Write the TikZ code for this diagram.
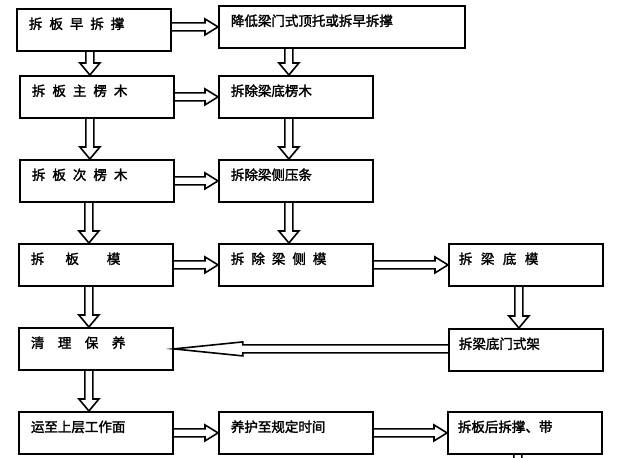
\documentclass[tikz,border=0pt]{standalone}
\usepackage{fontspec}
\newfontfamily\cjk{Noto Sans CJK SC}[FakeBold=2]
\usetikzlibrary{calc}

\newcommand\sk[1][7pt]{\hspace{#1}}
% hollow arrow: from, to, head length, head half width
\newcommand\blockarrow[4]{%
  \coordinate (ah) at ($(#2)!#3pt!(#1)$);
  \draw [arrowline] ($(#1)!4pt!90:(#2)$) -- ($(ah)!4pt!90:(#2)$) -- ($(ah)!#4pt!90:(#2)$) -- (#2) -- ($(ah)!#4pt!-90:(#2)$) -- ($(ah)!4pt!-90:(#2)$) -- ($(#1)!4pt!-90:(#2)$) ;
}
\newcommand\vflow[2]{%
  \coordinate (ve) at ([xshift=-7pt]#2.north);
  \coordinate (vs) at (ve |- #1.south);
  \blockarrow{vs}{ve}{12}{10}}
\newcommand\hflow[2]{%
  \coordinate (hs) at (#1.east |- #2.west);
  \blockarrow{hs}{#2.west}{13}{8}}

\tikzset{every picture/.style={line width=1.6pt},
  stepbox/.style={draw, line width=1.8pt, anchor=north west, inner xsep=12pt, inner ysep=4pt, text height=16pt, text depth=18pt, align=left, font=\cjk\fontsize{13.5}{16}\selectfont},
  narrowbox/.style={stepbox, text width=130pt},
  widebox/.style={stepbox, text width=222pt},
  arrowline/.style={line width=1.6pt, line join=miter}
}

\begin{document}
\begin{tikzpicture}[x=1pt,y=1pt,yscale=-1,xscale=1]
		\clip (0,0) rectangle (619,458);
		
		%left column
		\node [narrowbox] (l1) at (16,8) {拆\sk 板\sk 早\sk 拆\sk 撑};
		\node [narrowbox] (l2) at (19,75) {拆\sk 板\sk 主\sk 楞\sk 木};
		\node [narrowbox] (l3) at (19,159) {拆\sk 板\sk 次\sk 楞\sk 木};
		\node [narrowbox] (l4) at (18,243) {拆\sk[21pt]板\sk[28pt]模};
		\node [narrowbox] (l5) at (18,327) {清\sk[13.5pt]理\sk[13.5pt]保\sk[13.5pt]养};
		\node [narrowbox] (l6) at (18,411) {运至上层工作面};
		%middle column
		\node [widebox] (m1) at (218,5) {降低梁门式顶托或拆早拆撑};
		\node [narrowbox] (m2) at (218,75) {拆除梁底楞木};
		\node [narrowbox] (m3) at (218,159) {拆除梁侧压条};
		\node [narrowbox] (m4) at (218,243) {拆\sk 除\sk 梁\sk 侧\sk 模};
		\node [narrowbox] (m6) at (218,411) {养护至规定时间};
		%right column
		\node [narrowbox, inner xsep=10pt, text width=134pt] (r4) at (448,243) {拆\sk[8.5pt]梁\sk[8.5pt]底\sk[8.5pt]模};
		\node [narrowbox, inner xsep=10pt, text width=134pt] (r5) at (448,328) {拆梁底门式架};
		\node [narrowbox, inner xsep=10pt, text width=134pt] (r6) at (447,411) {拆板后拆撑、带};
		
		%arrows down
		\vflow{l1}{l2}
		\vflow{l2}{l3}
		\vflow{l3}{l4}
		\vflow{l4}{l5}
		\vflow{l5}{l6}
		\vflow{m1}{m2}
		\vflow{m2}{m3}
		\vflow{m3}{m4}
		\vflow{r4}{r5}
		%arrows across
		\hflow{l1}{m1}
		\hflow{l2}{m2}
		\hflow{l3}{m3}
		\hflow{l4}{m4}
		\hflow{m4}{r4}
		\hflow{l6}{m6}
		\hflow{m6}{r6}
		%long arrow back
		\coordinate (bs) at (r5.west |- l5.east);
		\blockarrow{bs}{l5.east}{69}{7}
		%continues below
		\coordinate (ts) at ([xshift=-7pt]r6.south);
		\coordinate (te) at ($(ts)+(0,30)$);
		\blockarrow{ts}{te}{12}{10}
		
	\end{tikzpicture}
\end{document}
